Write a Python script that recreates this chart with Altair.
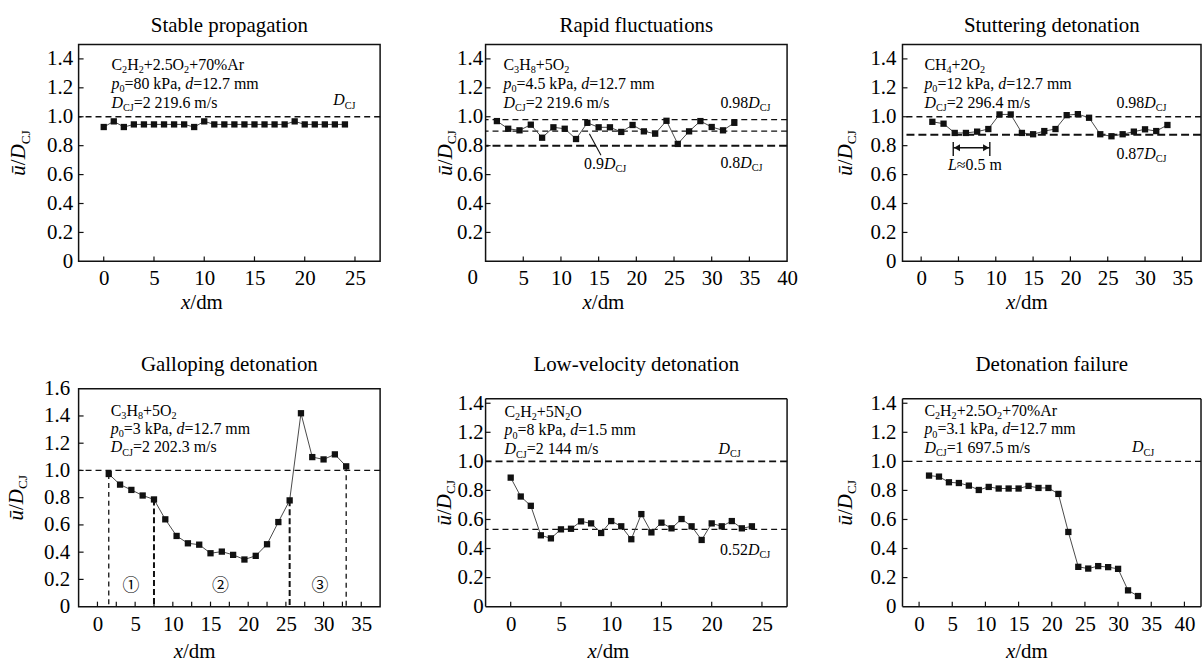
import altair as alt
import pandas as pd
from collections import defaultdict

FONT = "Liberation Serif"
INK = "#111111"
LINE = "#4a4a4a"

# ---------------- values ----------------
stable_x = [0, 1, 2, 3, 4, 5, 6, 7, 8, 9, 10, 11, 12, 13, 14, 15, 16, 17, 18, 19, 20, 21, 22, 23, 24]
stable_y = [0.929, 0.968, 0.929, 0.947, 0.947, 0.947, 0.947, 0.947, 0.947, 0.929, 0.968,
            0.947, 0.947, 0.947, 0.947, 0.947, 0.947, 0.947, 0.947, 0.968,
            0.947, 0.947, 0.947, 0.947, 0.947]

step_x = [1.5, 3, 4.5, 6, 7.5, 9, 10.5, 12, 13.5, 15, 16.5, 18, 19.5, 21, 22.5, 24,
          25.5, 27, 28.5, 30, 31.5, 33]
rapid_y = [0.970, 0.917, 0.906, 0.945, 0.855, 0.927, 0.917, 0.846, 0.958, 0.927, 0.927,
           0.895, 0.943, 0.899, 0.883, 0.972, 0.812, 0.899, 0.970, 0.929, 0.906, 0.958]
stutter_y = [0.965, 0.952, 0.888, 0.888, 0.897, 0.915, 1.016, 1.016, 0.888, 0.879, 0.901,
             0.915, 1.011, 1.018, 0.993, 0.879, 0.865, 0.879, 0.897, 0.913, 0.901, 0.943]
gallop_y = [0.974, 0.896, 0.857, 0.816, 0.787, 0.641, 0.519, 0.465, 0.455, 0.392, 0.404,
            0.380, 0.346, 0.373, 0.458, 0.621, 0.780, 1.420, 1.098, 1.081, 1.118, 1.030]
failure_y = [0.902, 0.895, 0.856, 0.851, 0.833, 0.803, 0.824, 0.813, 0.813, 0.813, 0.831,
             0.817, 0.817, 0.776, 0.514, 0.274, 0.262, 0.279, 0.272, 0.260, 0.112, 0.073]

lowvel_x = [0, 1, 2, 3, 4, 5, 6, 7, 8, 9, 10, 11, 12, 13, 14, 15, 16, 17, 18, 19, 20, 21, 22, 23, 24]
lowvel_y = [0.888, 0.758, 0.694, 0.491, 0.470, 0.532, 0.536, 0.587, 0.573, 0.507, 0.589,
            0.553, 0.464, 0.637, 0.511, 0.578, 0.539, 0.603, 0.553, 0.459, 0.573, 0.553,
            0.589, 0.539, 0.553]

# reference levels
stable_ref = [1.0]
rapid_ref_thin = [0.98, 0.90]
rapid_ref_thick = [0.80]
stutter_ref_thin = [1.0]
stutter_ref_thick = [0.875]
gallop_ref = [1.0]
gallop_vx_thin = [1.5, 33]
gallop_vtop_thin = [0.974, 1.030]
gallop_vx_thick = [7.5, 25.5]
gallop_vtop_thick = [0.787, 0.780]
lowvel_ref_main = [1.0]
lowvel_ref_low = [0.532]
failure_ref = [1.0]

# annotation extras
rapid_leader = {"x": [13.77], "y": [0.883], "x2": [15.31], "y2": [0.734]}
stutter_bar_x = [4.3, 9.2]
stutter_bar_lo = [0.729, 0.729]
stutter_bar_hi = [0.826, 0.826]
stutter_arrow_y = 0.786
circled_text = ["\u2460", "\u2461", "\u2462"]

# ticks & labels
ticks_x_stable = [0, 5, 10, 15, 20, 25]
ticks_x_rapid = [5, 10, 15, 20, 25, 30, 35]
labels_x_rapid = [5, 10, 15, 20, 25, 30, 35, 40]
ticks_x_stutter = [0, 5, 10, 15, 20, 25, 30, 35]
ticks_x_gallop = [0, 2.5, 5, 7.5, 10, 12.5, 15, 17.5, 20, 22.5, 25, 27.5, 30, 32.5, 35]
labels_x_gallop = [0, 5, 10, 15, 20, 25, 30, 35]
ticks_x_lowvel = [0, 5, 10, 15, 20, 25]
ticks_x_failure = [0, 5, 10, 15, 20, 25, 30, 35, 40]
ticks_y_14 = [0.2, 0.4, 0.6, 0.8, 1.0, 1.2, 1.4]
labels_y_14 = [0, 0.2, 0.4, 0.6, 0.8, 1.0, 1.2, 1.4]
labels_y_14_no0 = [0.2, 0.4, 0.6, 0.8, 1.0, 1.2, 1.4]
labels_y_16 = [0, 0.2, 0.4, 0.6, 0.8, 1.0, 1.2, 1.4, 1.6]

# ---------------- rich text helpers ----------------
W_R = {' ': 250, '%': 833, '+': 564, ',': 250, '-': 333, '.': 250, '/': 278, '=': 564,
       '\u2248': 549, 'A': 722, 'C': 667, 'D': 722, 'H': 722, 'J': 389, 'N': 722,
       'O': 722, 'P': 556, 'a': 444, 'd': 500, 'k': 500, 'm': 778, 'r': 333, 's': 389}
for _c in "0123456789":
    W_R[_c] = 500
W_I = {'p': 500, 'd': 500, 'D': 722, 'x': 444, '\u016b': 500, 'L': 556}
SUB = 0.64


def seg_w(t, s, fs):
    if s == "i":
        return sum(W_I.get(c, 500) for c in t) * fs / 1000
    k = SUB if s == "s" else 1.0
    return sum(W_R.get(c, 500) for c in t) * fs * k / 1000


def rich(parts, px, py, fs, align="left", angle=0, font=FONT):
    if len(parts) == 1:
        t, s = parts[0]
        return [dict(t=t, s=s, fs=fs, px=px, py=py, angle=angle, align=align, font=font)]
    ws = [seg_w(t, s, fs) for t, s in parts]
    tot = sum(ws)
    pos = {"left": 0, "center": -tot / 2, "right": -tot}[align]
    out = []
    for (t, s), w in zip(parts, ws):
        if angle == 0:
            out.append(dict(t=t, s=s, fs=fs, px=px + pos, py=py, angle=0, align="left", font=font))
        else:
            out.append(dict(t=t, s=s, fs=fs, px=px, py=py - pos, angle=angle, align="left", font=font))
        pos += w
    return out


def cond(p0, d):
    return [("p", "i"), ("0", "s"), ("=" + p0 + " kPa, ", "r"), ("d", "i"), ("=" + d + " mm", "r")]


def dcj(v):
    return [("D", "i"), ("CJ", "s"), ("=" + v + " m/s", "r")]


def dlab(prefix):
    parts = [(prefix, "r")] if prefix else []
    return parts + [("D", "i"), ("CJ", "s")]


YT = [("\u016b", "i"), ("/", "r"), ("D", "i"), ("CJ", "s")]
XT = [("x", "i"), ("/dm", "r")]
mix_ar = [("C", "r"), ("2", "s"), ("H", "r"), ("2", "s"), ("+2.5O", "r"), ("2", "s"), ("+70%Ar", "r")]
mix_c3 = [("C", "r"), ("3", "s"), ("H", "r"), ("8", "s"), ("+5O", "r"), ("2", "s")]
mix_ch4 = [("CH", "r"), ("4", "s"), ("+2O", "r"), ("2", "s")]
mix_n2o = [("C", "r"), ("2", "s"), ("H", "r"), ("2", "s"), ("+5N", "r"), ("2", "s"), ("O", "r")]


def panel(p):
    W, H = p["W"], p["H"]
    xd, yd = p["xdom"], p["ydom"]
    xs = alt.Scale(domain=xd, nice=False, zero=False)
    ys = alt.Scale(domain=yd, nice=False, zero=False)
    xaxis = alt.Axis(values=p["xlabels"], title=None, grid=False, domain=False, ticks=False,
                     labelFont=FONT, labelFontSize=21, labelColor="black",
                     labelPadding=6.5, labelFlush=False, labelOverlap=False)
    yaxis = alt.Axis(values=p["ylabels"], title=None, grid=False, domain=False, ticks=False,
                     labelFont=FONT, labelFontSize=21, labelColor="black",
                     labelPadding=p["ypad"], labelFlush=False, labelOverlap=False,
                     labelExpr="datum.value == 0 ? '0' : format(datum.value, '.1f')")

    def X(f):
        return alt.X(f, type="quantitative", scale=xs, axis=xaxis)

    def Y(f):
        return alt.Y(f, type="quantitative", scale=ys, axis=yaxis)

    def px2x(v):
        return xd[0] + v * (xd[1] - xd[0]) / W

    def py2y(v):
        return yd[1] - v * (yd[1] - yd[0]) / H

    df = pd.DataFrame({"x": p["x"], "y": p["y"]})
    layers = [alt.Chart(df).mark_line(color=LINE, strokeWidth=1, opacity=0).encode(
        x=X("x"), y=Y("y"))]

    one = pd.DataFrame({"k": [0]})
    layers.append(alt.Chart(one).mark_rule(strokeOpacity=0).encode(
        x=alt.value(-p["E"]), x2=alt.value(W + p["R"]),
        y=alt.value(-p["T"]), y2=alt.value(H + p["B"])))

    if "frame_top" in p:
        ft = p["frame_top"]
        layers.append(alt.Chart(pd.DataFrame({"v": [ft, yd[0]]})).mark_rule(
            color=INK, strokeWidth=1.5).encode(y=Y("v")))
        layers.append(alt.Chart(pd.DataFrame({"v": [xd[0], xd[1]], "lo": [yd[0], yd[0]], "hi": [ft, ft]})).mark_rule(
            color=INK, strokeWidth=1.5).encode(x=X("v"), y=Y("lo"), y2="hi:Q"))

    for vals, dash, sw in p["hrefs"]:
        layers.append(alt.Chart(pd.DataFrame({"v": vals})).mark_rule(
            color=INK, strokeDash=dash, strokeWidth=sw).encode(y=Y("v")))
    for xv, tops, dash, sw in p.get("vrefs", []):
        layers.append(alt.Chart(pd.DataFrame({"v": xv, "top": tops})).mark_rule(
            color=INK, strokeDash=dash, strokeWidth=sw).encode(
            x=X("v"), y=Y("top"), y2=alt.value(H)))

    layers.append(alt.Chart(pd.DataFrame({"t": p["xticks"]})).mark_rule(
        color=INK, strokeWidth=1.2).encode(x=X("t"), y=alt.value(H), y2=alt.value(H - 5)))
    layers.append(alt.Chart(pd.DataFrame({"t": p["yticks"]})).mark_rule(
        color=INK, strokeWidth=1.2).encode(y=Y("t"), x=alt.value(0), x2=alt.value(5)))

    for extra in p.get("extras", []):
        layers.append(extra(X, Y))

    layers.append(alt.Chart(df).mark_line(color=LINE, strokeWidth=1).encode(x=X("x"), y=Y("y")))
    layers.append(alt.Chart(df).mark_square(size=40, color=INK, opacity=1).encode(
        x=X("x"), y=Y("y")))

    segs = []
    for item in p["texts"]:
        segs += rich(*item)
    groups = defaultdict(list)
    for s in segs:
        key = (s["s"], s["fs"], s["angle"], s["align"], s["font"])
        groups[key].append({"x": px2x(s["px"]), "y": py2y(s["py"]), "t": str(s["t"])})
    for (st, fs, ang, al, fnt), rows in groups.items():
        size = fs * SUB if st == "s" else fs
        layers.append(alt.Chart(pd.DataFrame(rows)).mark_text(
            font=fnt, fontSize=size, fontStyle="italic" if st == "i" else "normal",
            align=al, baseline="alphabetic", angle=ang,
            dy=round(fs * 0.2, 2) if st == "s" else 0, color="black").encode(
            x=X("x"), y=Y("y"), text="t:N"))
    ch = alt.layer(*layers).properties(width=W, height=H)
    if "frame_top" in p:
        ch = ch.properties(view=alt.ViewBackground(stroke="transparent"))
    return ch


def leader(X, Y):
    return alt.Chart(pd.DataFrame(rapid_leader)).mark_rule(color=INK, strokeWidth=1.1).encode(
        x=X("x"), y=Y("y"), x2="x2:Q", y2="y2:Q")


def bars(X, Y):
    return alt.Chart(pd.DataFrame({"x": stutter_bar_x, "lo": stutter_bar_lo, "hi": stutter_bar_hi})).mark_rule(
        color=INK, strokeWidth=1.4).encode(x=X("x"), y=Y("lo"), y2="hi:Q")


def shaft(X, Y):
    return alt.Chart(pd.DataFrame({"x": [stutter_bar_x[0]], "x2": [stutter_bar_x[1]], "y": [stutter_arrow_y]})).mark_rule(
        color=INK, strokeWidth=1.4).encode(x=X("x"), x2="x2:Q", y=Y("y"))


def head_l(X, Y):
    return alt.Chart(pd.DataFrame({"x": [stutter_bar_x[0] + 0.5], "y": [stutter_arrow_y]})).mark_point(
        shape="triangle-left", filled=True, size=50, color=INK, opacity=1).encode(x=X("x"), y=Y("y"))


def head_r(X, Y):
    return alt.Chart(pd.DataFrame({"x": [stutter_bar_x[1] - 0.5], "y": [stutter_arrow_y]})).mark_point(
        shape="triangle-right", filled=True, size=50, color=INK, opacity=1).encode(x=X("x"), y=Y("y"))


P1 = dict(W=303, H=218, E=77.3, R=10, T=42, B=70, xdom=[-2.5, 27.5], ydom=[0, 1.5],
          x=stable_x, y=stable_y, xticks=ticks_x_stable, xlabels=ticks_x_stable,
          yticks=ticks_y_14, ylabels=labels_y_14, ypad=6,
          hrefs=[(stable_ref, [6, 4], 1.4)],
          texts=[([("Stable propagation", "r")], 151.5, -12.7, 21, "center"),
                 (mix_ar, 33, 26, 16), (cond("80", "12.7"), 33, 45, 16), (dcj("2 219.6"), 33, 64, 16),
                 (dlab(""), 256, 61.3, 16),
                 (YT, -53.5, 109, 21, "center", 270), (XT, 151.5 - 27.5, 218 + 48.3, 21, "center")])

P2 = dict(W=303, H=218, E=93.7, R=15, T=42, B=70, xdom=[0, 40], ydom=[0, 1.5],
          x=step_x, y=rapid_y, xticks=ticks_x_rapid, xlabels=labels_x_rapid,
          yticks=ticks_y_14, ylabels=labels_y_14_no0, ypad=3,
          hrefs=[(rapid_ref_thin, [6, 4], 1.3), (rapid_ref_thick, [8, 4], 2.0)],
          extras=[leader],
          texts=[([("Rapid fluctuations", "r")], 151.5, -12.7, 21, "center"),
                 (mix_c3, 18, 26, 16), (cond("4.5", "12.7"), 18, 45, 16), (dcj("2 219.6"), 18, 64, 16),
                 (dlab("0.98"), 236, 64, 16), (dlab("0.9"), 99, 124.7, 16), (dlab("0.8"), 236, 124, 16),
                 ([("0", "r")], -13, 241.1, 21, "center"),
                 (YT, -34, 109, 21, "center", 270), (XT, 151.5 - 33, 218 + 48.3, 21, "center")])

P3 = dict(W=300, H=218, E=99, R=0, T=42, B=70, xdom=[-2.5, 37.5], ydom=[0, 1.5],
          x=step_x, y=stutter_y, xticks=ticks_x_stutter, xlabels=ticks_x_stutter,
          yticks=ticks_y_14, ylabels=labels_y_14, ypad=6.5,
          hrefs=[(stutter_ref_thin, [6, 4], 1.3), (stutter_ref_thick, [8, 4], 2.0)],
          extras=[bars, shaft, head_l, head_r],
          texts=[([("Stuttering detonation", "r")], 150, -12.7, 21, "center"),
                 (mix_ch4, 22, 26, 16), (cond("12", "12.7"), 22, 45, 16), (dcj("2 296.4"), 22, 64, 16),
                 (dlab("0.98"), 215, 64, 16), (dlab("0.87"), 215, 114.7, 16),
                 ([("L", "i"), ("\u22480.5 m", "r")], 45.7, 126, 16),
                 (YT, -50.7, 109, 21, "center", 270), (XT, 150 - 25, 218 + 48.3, 21, "center")])

P4 = dict(W=303, H=219, E=77.5, R=10, T=56, B=57, xdom=[-2.5, 37.5], ydom=[0, 1.6],
          x=step_x, y=gallop_y, xticks=ticks_x_gallop, xlabels=labels_x_gallop,
          yticks=ticks_y_14, ylabels=labels_y_16, ypad=9,
          hrefs=[(gallop_ref, [6, 4], 1.3)],
          vrefs=[(gallop_vx_thin, gallop_vtop_thin, [5, 4], 1.3),
                 (gallop_vx_thick, gallop_vtop_thick, [6, 3], 2.0)],
          texts=[([("Galloping detonation", "r")], 151.5, -17.7, 21, "center"),
                 (mix_c3, 32.3, 27, 16), (cond("3", "12.7"), 32.3, 45.5, 16), (dcj("2 202.3"), 32.3, 64, 16),
                 ([(circled_text[0], "r")], 52.5, 203.5, 17, "center", 0, "Noto Sans CJK SC"),
                 ([(circled_text[1], "r")], 142.5, 203.5, 17, "center", 0, "Noto Sans CJK SC"),
                 ([(circled_text[2], "r")], 242.5, 203.5, 17, "center", 0, "Noto Sans CJK SC"),
                 (YT, -55.7, 109.5, 21, "center", 270), (XT, 151.5 - 35, 219 + 52, 21, "center")])

P5 = dict(W=303, H=219, E=93.8, R=15, T=56, B=57, xdom=[-2.5, 27.5], ydom=[0, 1.5], frame_top=1.4315,
          x=lowvel_x, y=lowvel_y, xticks=ticks_x_lowvel, xlabels=ticks_x_lowvel,
          yticks=ticks_y_14, ylabels=labels_y_14, ypad=2.5,
          hrefs=[(lowvel_ref_main, [7, 4], 1.7), (lowvel_ref_low, [6, 4], 1.3)],
          texts=[([("Low-velocity detonation", "r")], 151.5, -17.7, 21, "center"),
                 (mix_n2o, 19, 28, 16), (cond("8", "1.5"), 19, 47, 16), (dcj("2 144"), 19, 66, 16),
                 (dlab(""), 234, 65.7, 16), (dlab("0.52"), 235.7, 166.7, 16),
                 (YT, -35, 114.5, 21, "center", 270), (XT, 151.5 - 28, 219 + 52, 21, "center")])

P6 = dict(W=300, H=219, E=98.9, R=0, T=56, B=57, xdom=[-2.5, 42.5], ydom=[0, 1.5], frame_top=1.4315,
          x=step_x, y=failure_y, xticks=ticks_x_failure, xlabels=ticks_x_failure,
          yticks=ticks_y_14, ylabels=labels_y_14, ypad=6.5,
          hrefs=[(failure_ref, [6, 4], 1.3)],
          texts=[([("Detonation failure", "r")], 150, -17.7, 21, "center"),
                 (mix_ar, 22, 27.5, 16), (cond("3.1", "12.7"), 22, 46, 16), (dcj("1 697.5"), 22, 64.5, 16),
                 (dlab(""), 230.7, 64, 16),
                 (YT, -50.7, 114.5, 21, "center", 270), (XT, 150 - 25, 219 + 52, 21, "center")])

top = alt.hconcat(panel(P1), panel(P2), panel(P3), spacing=0)
bottom = alt.hconcat(panel(P4), panel(P5), panel(P6), spacing=0)
chart = alt.vconcat(top, bottom, spacing=0).properties(
    padding=0, background="white").configure_view(stroke=INK, strokeWidth=1.5)

chart.save("out.html", embed_options={"renderer": "svg", "actions": False})
